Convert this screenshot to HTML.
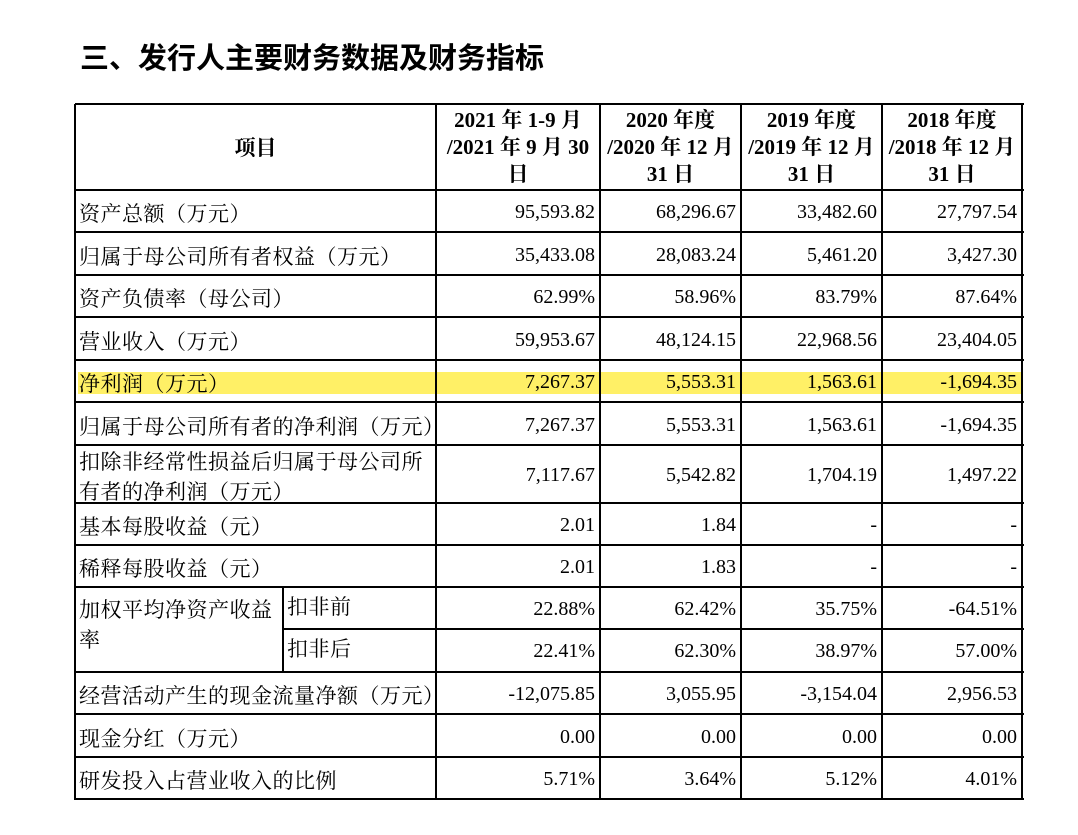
<!DOCTYPE html>
<html><head><meta charset="utf-8"><style>
body{margin:0;width:1078px;height:835px;background:#fff;position:relative;overflow:hidden;font-family:"Liberation Serif","Noto Serif CJK SC",serif;color:#000}
.h{position:absolute;height:2px;background:#000}
.v{position:absolute;width:2px;background:#000}
.t{position:absolute;font-size:20px;white-space:nowrap;line-height:24px}
.l{font-size:21px;letter-spacing:0.5px}
.r{text-align:right}
.b{font-weight:bold;text-align:center;font-size:21px}
</style></head><body>
<div style="position:absolute;left:80px;top:35px;font-family:'Liberation Sans','Noto Sans CJK SC',sans-serif;font-weight:bold;font-size:29px;">三、发行人主要财务数据及财务指标</div>
<div style="position:absolute;left:78px;top:372px;width:943px;height:22px;background:#fff066"></div>
<div id="tbl"></div>
<script>
const cols=[75,436,600,741,882,1022];
const rowsY=[104,190,232,275,317,360,402,445,503,545,587,672,714,757,799];
const labels=["资产总额（万元）","归属于母公司所有者权益（万元）","资产负债率（母公司）","营业收入（万元）","净利润（万元）","归属于母公司所有者的净利润（万元）","扣除非经常性损益后归属于母公司所|有者的净利润（万元）","基本每股收益（元）","稀释每股收益（元）","加权平均净资产收益|率","经营活动产生的现金流量净额（万元）","现金分红（万元）","研发投入占营业收入的比例"];
const vals=[["95,593.82","68,296.67","33,482.60","27,797.54"],["35,433.08","28,083.24","5,461.20","3,427.30"],["62.99%","58.96%","83.79%","87.64%"],["59,953.67","48,124.15","22,968.56","23,404.05"],["7,267.37","5,553.31","1,563.61","-1,694.35"],["7,267.37","5,553.31","1,563.61","-1,694.35"],["7,117.67","5,542.82","1,704.19","1,497.22"],["2.01","1.84","-","-"],["2.01","1.83","-","-"],null,["-12,075.85","3,055.95","-3,154.04","2,956.53"],["0.00","0.00","0.00","0.00"],["5.71%","3.64%","5.12%","4.01%"]];
const roe1=["22.88%","62.42%","35.75%","-64.51%"];
const roe2=["22.41%","62.30%","38.97%","57.00%"];
const heads=["2021 年 1-9 月|/2021 年 9 月 30|日","2020 年度|/2020 年 12 月|31 日","2019 年度|/2019 年 12 月|31 日","2018 年度|/2018 年 12 月|31 日"];
const T=document.getElementById('tbl');
function add(cls,style,txt){const d=document.createElement('div');d.className=cls;d.style.cssText=style;if(txt!==undefined)d.innerHTML=txt;T.appendChild(d);return d;}
rowsY.forEach((y,i)=>{const e=add('h',`left:75px;top:${y-1}px;width:949px`);

});
const mid=add('h',`left:282px;top:628px;width:742px`);


cols.forEach(x=>{const e=add('v',`left:${x-1}px;top:104px;height:696px`);

});
const sv=add('v',`left:282px;top:587px;height:85px`);


const hh=add('t b',`left:75px;top:136px;width:361px`,'项目');


heads.forEach((h,j)=>{const e=add('t b',`left:${cols[j+1]}px;top:107px;width:${cols[j+2]-cols[j+1]}px;line-height:27px`,h.split('|').join('<br>'));

});
labels.forEach((lab,i)=>{const y0=rowsY[i+1],y1=rowsY[i+2];const lines=lab.split('|');
const top=i===9?y0+8:(y0+y1)/2-lines.length*15+3;
const e=add('t l',`left:79px;top:${top}px;line-height:30px`,lines.join('<br>'));


if(vals[i]){vals[i].forEach((v,j)=>{const c=add('t r',`left:${cols[j+1]}px;top:${(y0+y1)/2-11}px;width:${cols[j+2]-cols[j+1]-5}px`,v);

});}});
[["扣非前",587,628,roe1],["扣非后",628,672,roe2]].forEach(([n,y0,y1,arr])=>{const e=add('t l',`left:287px;top:${(y0+y1)/2-13}px`,n);


arr.forEach((v,j)=>{const c=add('t r',`left:${cols[j+1]}px;top:${(y0+y1)/2-11}px;width:${cols[j+2]-cols[j+1]-5}px`,v);

});});
</script>
</body></html>
